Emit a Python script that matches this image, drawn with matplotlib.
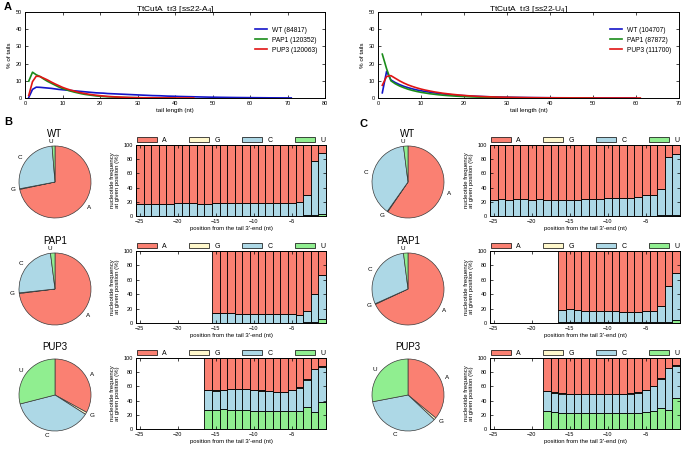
import numpy as np
import matplotlib
matplotlib.use("Agg")
import matplotlib.pyplot as plt
from matplotlib.patches import Patch

plt.rcParams['font.family'] = ['Liberation Sans', 'DejaVu Sans']
plt.rcParams['mathtext.fontset'] = 'custom'
plt.rcParams['mathtext.rm'] = 'Liberation Sans'

# ---- A: tail length distributions (% of tails), tail length 1, 2, 3, ...
wt_a4 = [0.3, 5.0, 6.3, 6.2, 6.0, 5.8, 5.6, 5.3, 5.0, 4.8, 4.6, 4.4, 4.2, 4.0, 3.8,
         3.6, 3.4, 3.2, 3.0, 2.9, 2.8, 2.6, 2.5, 2.4, 2.3, 2.2, 2.1, 2.0, 1.9, 1.8,
         1.7, 1.6, 1.5, 1.4, 1.35, 1.3, 1.2, 1.1, 1.05, 1.0, 0.9, 0.85, 0.8, 0.75, 0.7,
         0.65, 0.6, 0.55, 0.5, 0.47, 0.44, 0.4, 0.37, 0.34, 0.31, 0.28, 0.26, 0.24, 0.22,
         0.2, 0.18, 0.16, 0.14, 0.12, 0.1, 0.09, 0.08, 0.07, 0.06, 0.05, 0.04]
pap1_a4 = [9.8, 15.0, 13.5, 12.5, 11.0, 9.7, 8.6, 7.5, 6.4, 5.5, 4.8, 4.1, 3.5, 3.0, 2.5,
           2.1, 1.8, 1.5, 1.2, 1.0, 0.85, 0.7, 0.6, 0.5, 0.4, 0.33, 0.27, 0.22, 0.18, 0.15,
           0.12, 0.1, 0.08, 0.07, 0.06, 0.05, 0.04, 0.03, 0.02, 0.02]
pup3_a4 = [1.5, 9.5, 12.7, 12.5, 11.5, 10.5, 9.3, 8.2, 7.2, 6.2, 5.4, 4.7, 4.1, 3.5, 3.0,
           2.6, 2.2, 1.9, 1.6, 1.35, 1.15, 0.95, 0.8, 0.67, 0.55, 0.45, 0.37, 0.3, 0.25, 0.2,
           0.17, 0.14, 0.12, 0.1, 0.08, 0.07, 0.06, 0.05, 0.04, 0.03, 0.03, 0.02, 0.02, 0.01, 0.01]

wt_u4 = [3.0, 15.5, 10.5, 9.0, 7.8, 6.8, 6.0, 5.3, 4.7, 4.2, 3.8, 3.4, 3.0, 2.7, 2.4,
         2.15, 1.9, 1.7, 1.5, 1.35, 1.2, 1.08, 0.97, 0.87, 0.78, 0.7, 0.63, 0.56, 0.5, 0.45,
         0.4, 0.36, 0.32, 0.29, 0.26, 0.23, 0.21, 0.19, 0.17, 0.15, 0.14, 0.12, 0.11, 0.1, 0.09,
         0.08, 0.07, 0.065, 0.06, 0.05, 0.045, 0.04, 0.036, 0.032, 0.03, 0.025, 0.022, 0.02, 0.018, 0.015]
pap1_u4 = [25.5, 17.0, 10.0, 8.3, 7.0, 6.0, 5.1, 4.4, 3.8, 3.3, 2.9, 2.5, 2.2, 1.9, 1.65,
           1.45, 1.27, 1.1, 0.96, 0.84, 0.73, 0.63, 0.55, 0.48, 0.42, 0.36, 0.31, 0.27, 0.23, 0.2,
           0.17, 0.15, 0.13, 0.11, 0.095, 0.08, 0.07, 0.06, 0.05, 0.045, 0.04, 0.035, 0.03, 0.025, 0.02,
           0.018, 0.015, 0.012, 0.01, 0.01]
pup3_u4 = [7.4, 12.5, 13.0, 11.5, 10.0, 8.7, 7.6, 6.7, 5.9, 5.2, 4.6, 4.1, 3.6, 3.2, 2.8,
           2.5, 2.2, 1.95, 1.7, 1.5, 1.3, 1.15, 1.0, 0.88, 0.77, 0.68, 0.6, 0.52, 0.46, 0.4,
           0.35, 0.31, 0.27, 0.24, 0.21, 0.18, 0.16, 0.14, 0.12, 0.11, 0.095, 0.085, 0.075, 0.065, 0.057,
           0.05, 0.044, 0.039, 0.034, 0.03, 0.027, 0.024, 0.021, 0.019, 0.017, 0.015, 0.013, 0.012, 0.011, 0.01, 0.01]

labels_a4 = ['WT (84817)', 'PAP1 (120352)', 'PUP3 (120063)']
labels_u4 = ['WT (104707)', 'PAP1 (87872)', 'PUP3 (111700)']

# ---- B / C: nucleotide frequency per position (last value = 3'-end position -1)
# B, WT (positions -25..-1)
b_wt_u = [0, 0, 0, 0, 0, 0, 0, 0, 0, 0, 0, 0, 0, 0, 0, 0, 0, 0, 0, 0, 0, 0, 1, 2, 3]
b_wt_c = [17, 17, 17, 17, 17, 18, 18, 18, 17, 17, 18, 18, 18, 18, 18, 18, 18, 18, 18, 18, 19, 20, 28, 76, 86]
b_wt_g = [0] * 25
b_wt_a = [83, 83, 83, 83, 83, 82, 82, 82, 83, 83, 82, 82, 82, 82, 82, 82, 82, 82, 82, 82, 81, 80, 71, 22, 11]
# B, PAP1 (positions -15..-1)
b_pap1_u = [0, 0, 0, 0, 0, 0, 0, 0, 0, 0, 0, 0, 1, 2, 5]
b_pap1_c = [14, 14, 14, 13, 13, 13, 13, 13, 12, 12, 12, 11, 16, 38, 62]
b_pap1_g = [0] * 15
b_pap1_a = [86, 86, 86, 87, 87, 87, 87, 87, 88, 88, 88, 89, 83, 60, 33]
# B, PUP3 (positions -16..-1)
b_pup3_u = [27, 27, 28, 27, 27, 27, 26, 26, 26, 26, 26, 26, 26, 31, 24, 38]
b_pup3_c = [28, 27, 27, 29, 29, 29, 29, 28, 27, 26, 26, 29, 32, 38, 60, 50]
b_pup3_g = [0.5, 0.5, 0.5, 0.5, 0.5, 0.5, 0.5, 0.5, 0.5, 0.5, 0.5, 0.5, 1, 1, 1, 0.5]
b_pup3_a = [44.5, 45.5, 44.5, 43.5, 43.5, 43.5, 44.5, 45.5, 46.5, 47.5, 47.5, 44.5, 41, 30, 15, 11.5]

# C, WT (positions -25..-1)
c_wt_u = [0, 0, 0, 0, 0, 0, 0, 0, 0, 0, 0, 0, 0, 0, 0, 0, 0, 0, 0, 0, 0, 0, 1, 1.5, 1.5]
c_wt_c = [23, 24, 23, 24, 24, 23, 24, 23, 23, 23, 23, 23, 24, 24, 24, 25, 25, 26, 26, 27, 30, 29, 37, 81.5, 85.5]
c_wt_g = [0] * 25
c_wt_a = [77, 76, 77, 76, 76, 77, 76, 77, 77, 77, 77, 77, 76, 76, 76, 75, 75, 74, 74, 73, 70, 71, 62, 17, 13]
# C, PAP1 (positions -16..-1)
c_pap1_u = [1, 1, 1, 1, 1, 1, 1, 1, 1, 1, 1, 1, 1, 1, 2, 4]
c_pap1_c = [17, 18, 17, 16, 16, 16, 15, 15, 14, 14, 14, 15, 15, 23, 49, 65]
c_pap1_g = [0] * 16
c_pap1_a = [82, 81, 82, 83, 83, 83, 84, 84, 85, 85, 85, 84, 84, 76, 49, 31]
# C, PUP3 (positions -18..-1)
c_pup3_u = [26, 24, 23, 23, 23, 23, 23, 23, 22, 22, 22, 23, 23, 24, 25, 29, 27, 44]
c_pup3_c = [27, 27, 27, 26, 26, 26, 26, 26, 27, 27, 27, 27, 28, 31, 35, 42, 59, 45]
c_pup3_g = [1, 1, 0.5, 0.5, 0.5, 0.5, 0.5, 0.5, 0.5, 0.5, 0.5, 0.5, 0.5, 0.5, 0.5, 0.5, 0.5, 0.5]
c_pup3_a = [46, 48, 49.5, 50.5, 50.5, 50.5, 50.5, 50.5, 50.5, 50.5, 50.5, 49.5, 48.5, 44.5, 39.5, 28.5, 13.5, 10.5]

# pie fractions: A, G, C, U
b_pies = {'WT': [71.7, 0.3, 26.7, 1.3], 'PAP1': [73, 0.3, 24.7, 2.0], 'PUP3': [33, 1, 37, 29]}
c_pies = {'WT': [59.5, 0.3, 38.2, 2.0], 'PAP1': [68, 0.3, 29.7, 2.0], 'PUP3': [36, 1, 35, 28]}

nucs = ['A', 'G', 'C', 'U']
ncol = {'A': '#fa8072', 'G': '#fff8cc', 'C': '#add8e6', 'U': '#90ee90'}
line_colors = ['#1414c8', '#1a8c1a', '#e01414']

W, H = 683, 451
fig = plt.figure(figsize=(W / 100, H / 100), dpi=100)


def px_axes(x0, y0, x1, y1):
    # axes from pixel box (top-left origin)
    return fig.add_axes([x0 / W, 1 - y1 / H, (x1 - x0) / W, (y1 - y0) / H])


def style_ticks(ax, size=4):
    ax.tick_params(direction='in', length=2, width=0.5, labelsize=size, pad=2,
                   top=True, right=True)
    for s in ax.spines.values():
        s.set_linewidth(0.7)


def line_panel(ax, series, labels, xmax, title):
    for y, lab, col in zip(series, labels, line_colors):
        ax.plot(np.arange(1, len(y) + 1), y, color=col, lw=1.2, label=lab)
    ax.set_xlim(0, xmax)
    ax.set_ylim(0, 50)
    ax.set_xticks(np.arange(0, xmax + 1, 10))
    ax.set_yticks(np.arange(0, 51, 10))
    style_ticks(ax)
    ax.set_xlabel('tail length (nt)', fontsize=4.5, labelpad=1.5)
    ax.set_ylabel('% of tails', fontsize=4.5, labelpad=3)
    ax.set_title(title, fontsize=6, pad=1)
    ax.legend(loc='upper right', bbox_to_anchor=(0.995, 0.9), frameon=False, fontsize=4.8,
              handlelength=1.8, labelspacing=0.45, handletextpad=0.8)


def bar_panel(ax, u, c, g, a):
    pos = np.arange(-len(u), 0)
    bottom = np.zeros(len(u))
    for vals, n in zip([u, c, g, a], ['U', 'C', 'G', 'A']):
        ax.bar(pos, vals, width=1, bottom=bottom, color=ncol[n], edgecolor='black', linewidth=0.6)
        bottom = bottom + np.array(vals)
    ax.set_xlim(-25.5, -0.5)
    ax.set_ylim(0, 100)
    ax.set_xticks([-25, -20, -15, -10, -5])
    ax.set_yticks(np.arange(0, 101, 20))
    style_ticks(ax)
    ax.set_xlabel("position from the tail 3'-end (nt)", fontsize=4.3, labelpad=1.5)
    ax.set_ylabel('nucleotide frequency\nat given position (%)', fontsize=4.3, labelpad=3,
                  linespacing=1.0)
    handles = [Patch(facecolor=ncol[n], edgecolor='black', linewidth=0.5) for n in nucs]
    ax.legend(handles, nucs, loc='lower left', bbox_to_anchor=(0, 1.01, 1, 0.1), mode='expand',
              ncol=4, frameon=False, fontsize=5, handlelength=2.9, handleheight=0.75,
              borderaxespad=0, borderpad=0.1, handletextpad=0.8)


def pie_panel(ax, fracs, name):
    ax.pie(fracs, labels=nucs, colors=[ncol[n] for n in nucs], startangle=90,
           counterclock=False, labeldistance=1.13,
           wedgeprops=dict(edgecolor='#3a3a3a', linewidth=0.5),
           textprops=dict(fontsize=4.5))
    ax.set_xlim(-1.25, 1.25)
    ax.set_ylim(-1.25, 1.25)
    ax.text(0, 1.32, name, ha='center', va='center', fontsize=7)


# panel A
ax = px_axes(25, 12, 325, 98)
line_panel(ax, [wt_a4, pap1_a4, pup3_a4], labels_a4, 80, 'TtCutA_tr3 [ss22-A$_4$]')
ax = px_axes(378, 12, 679, 98)
line_panel(ax, [wt_u4, pap1_u4, pup3_u4], labels_u4, 70, 'TtCutA_tr3 [ss22-U$_4$]')

# panels B and C
bar_rows = [(145, 216), (251, 323), (358, 429)]
pie_cy = [182, 289, 395]
names = ['WT', 'PAP1', 'PUP3']
b_bars = [(b_wt_u, b_wt_c, b_wt_g, b_wt_a), (b_pap1_u, b_pap1_c, b_pap1_g, b_pap1_a),
          (b_pup3_u, b_pup3_c, b_pup3_g, b_pup3_a)]
c_bars = [(c_wt_u, c_wt_c, c_wt_g, c_wt_a), (c_pap1_u, c_pap1_c, c_pap1_g, c_pap1_a),
          (c_pup3_u, c_pup3_c, c_pup3_g, c_pup3_a)]

for i, name in enumerate(names):
    y0, y1 = bar_rows[i]
    bar_panel(px_axes(136, y0, 326, y1), *b_bars[i])
    bar_panel(px_axes(490, y0, 680, y1), *c_bars[i])
    cy = pie_cy[i]
    pie_panel(px_axes(55 - 45, cy - 45, 55 + 45, cy + 45), b_pies[name], name)
    pie_panel(px_axes(408 - 45, cy - 45, 408 + 45, cy + 45), c_pies[name], name)

fig.text(4 / W, 1 - 7 / H, 'A', fontsize=8, fontweight='bold', va='center')
fig.text(4 / W, 1 - 122 / H, 'B', fontsize=8, fontweight='bold', va='center')
fig.text(359 / W, 1 - 124 / H, 'C', fontsize=8, fontweight='bold', va='center')

fig.savefig('out.png', dpi=100)
